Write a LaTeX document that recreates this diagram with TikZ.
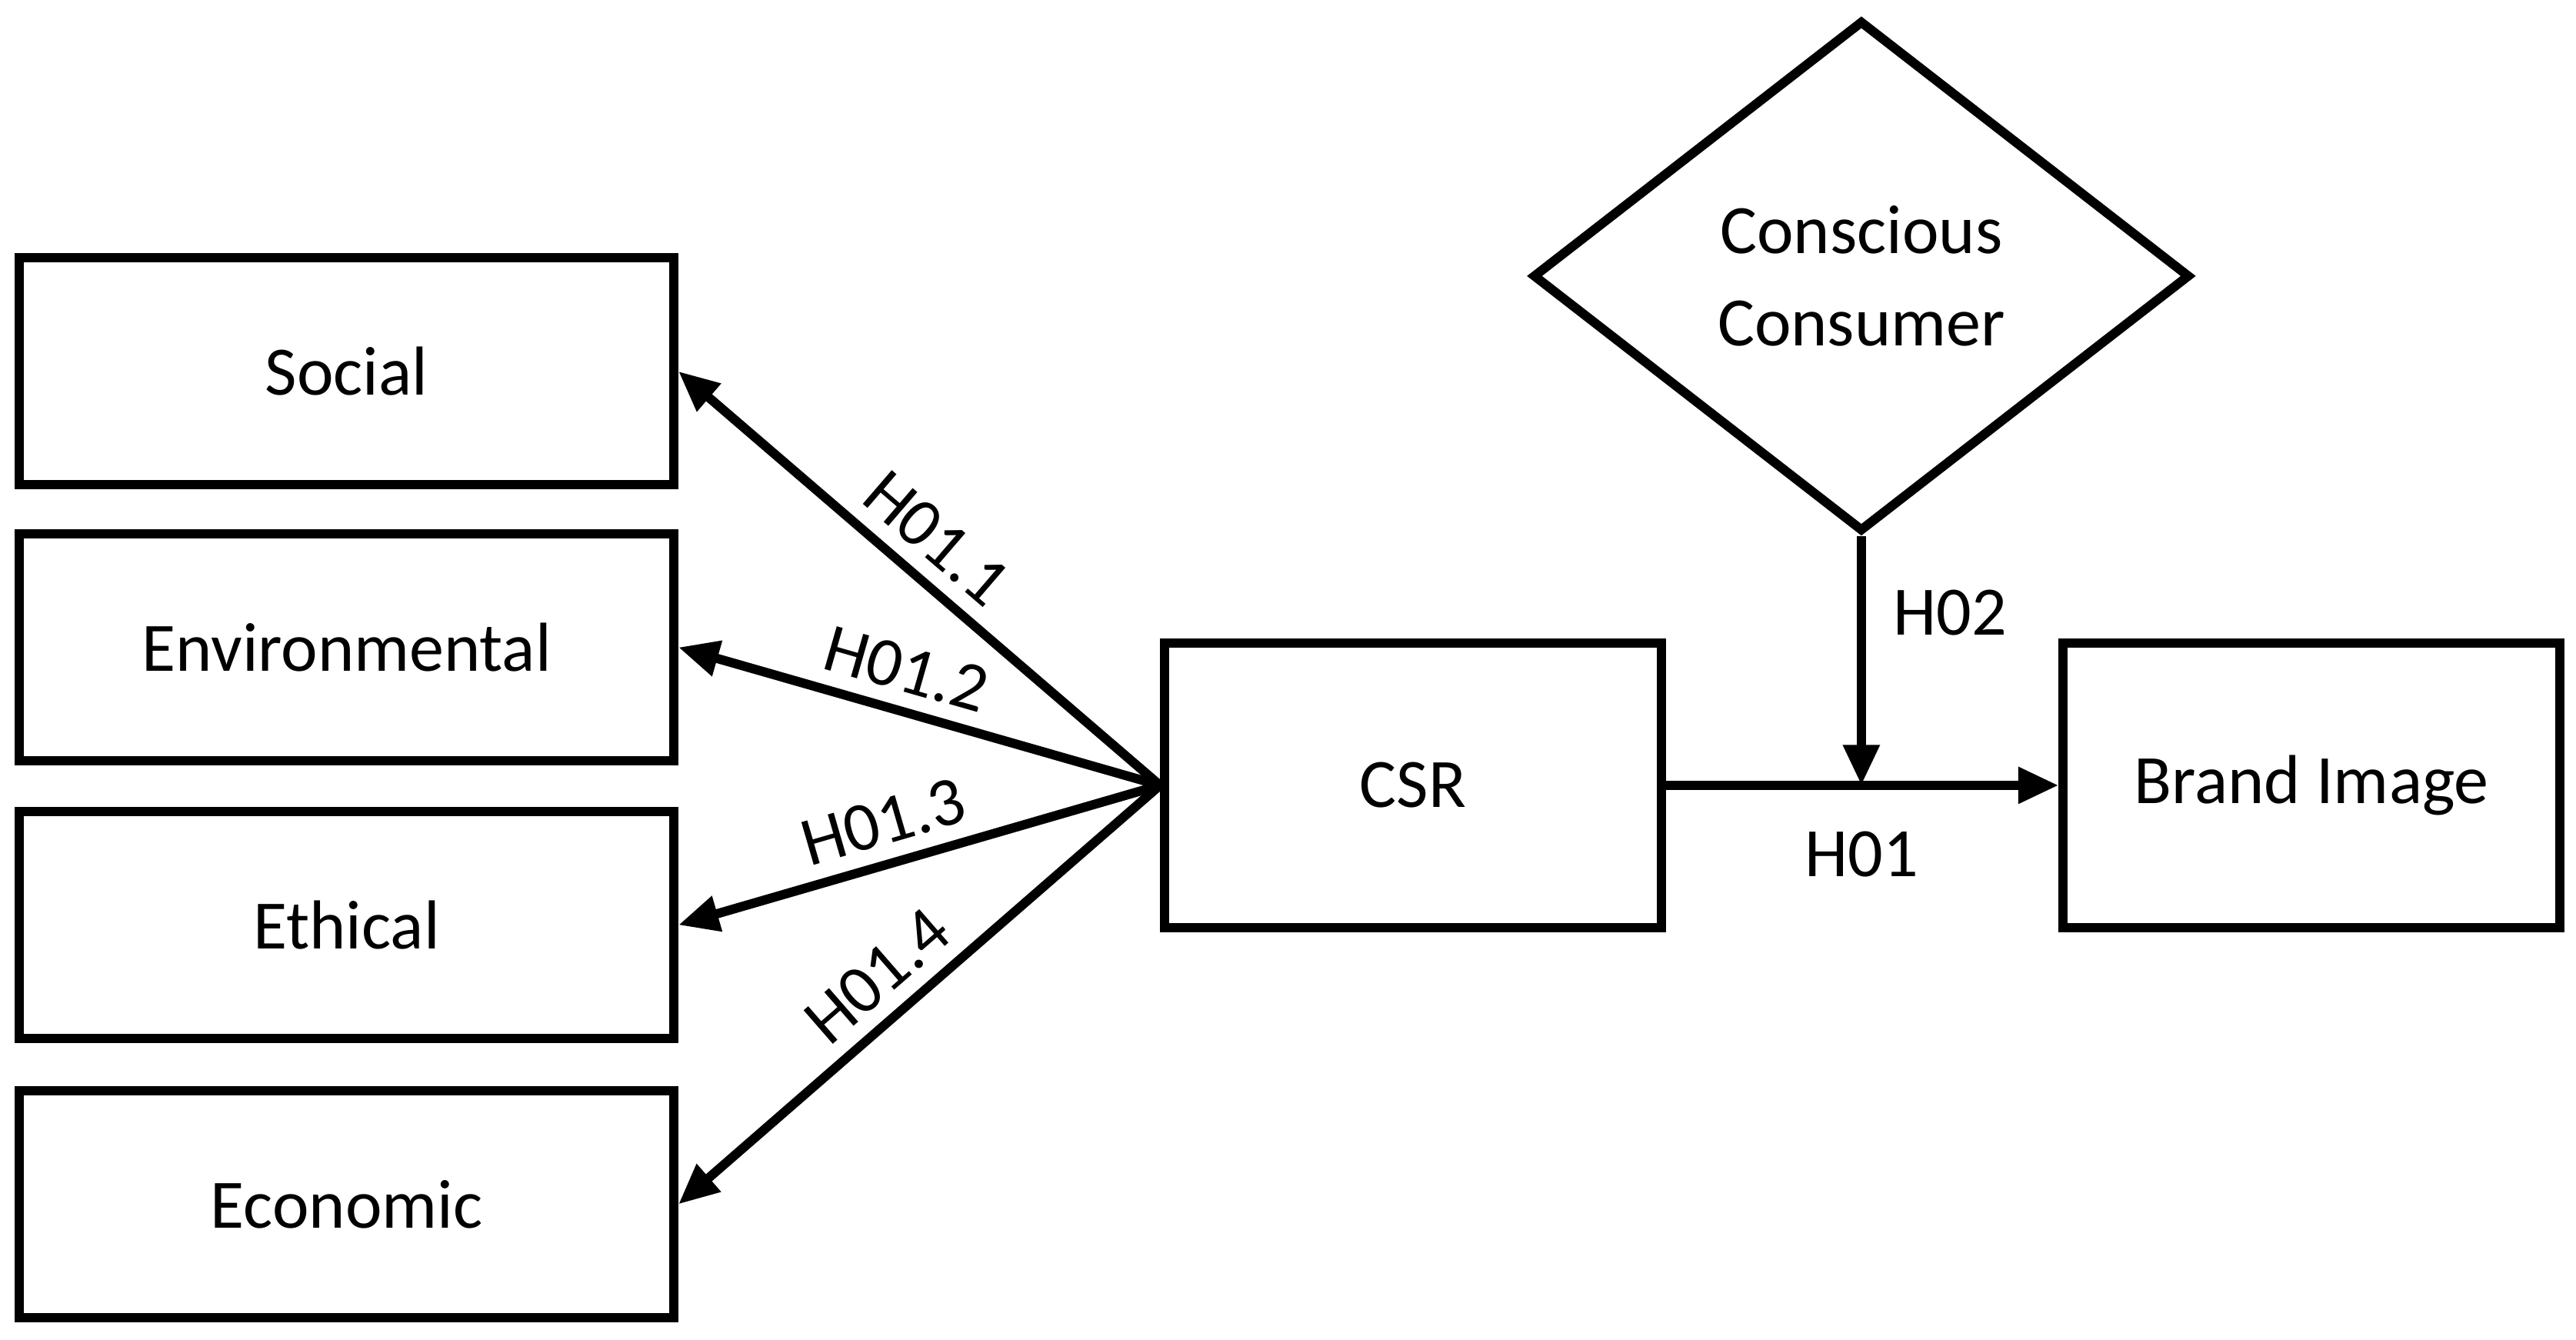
\documentclass[tikz,border=0pt]{standalone}
\usepackage{fontspec}
\setmainfont{Carlito}
\usetikzlibrary{shapes.geometric,arrows.meta}
\begin{document}
\begin{tikzpicture}[x=0.01cm,y=-0.01cm,
  box/.style={draw,line width=1.6pt,minimum width=3.98cm,minimum height=1.38cm,inner sep=0pt,font=\fontsize{12}{14}\selectfont},
  arr/.style={line width=1.6pt,-{Triangle[length=7pt,width=6pt]}},
  lab/.style={font=\fontsize{12}{14}\selectfont,inner sep=2.5pt}]
\useasboundingbox (0,0) rectangle (1568,815.6);
\node[box] (social) at (211,226) {Social};
\node[box] (env) at (211,394) {Environmental};
\node[box] (eth) at (211,563) {Ethical};
\node[box] (eco) at (211,733) {Economic};
\node[box,minimum width=3.02cm,minimum height=1.73cm] (csr) at (860,478) {CSR};
\node[box,minimum width=3.02cm,minimum height=1.73cm] (brand) at (1407,478) {Brand Image};
\node[draw,line width=1.6pt,diamond,minimum width=4cm,minimum height=3.11cm,inner sep=0pt,aspect=1.286,align=center,font=\fontsize{12}{16}\selectfont] (cc) at (1133,168) {Conscious\\Consumer};
\draw[arr] (csr.west) -- node[lab,sloped,above,pos=0.52] {H01.1} (social.east);
\draw[arr] (csr.west) -- node[lab,sloped,above,pos=0.55] {H01.2} (env.east);
\draw[arr] (csr.west) -- node[lab,sloped,above,pos=0.55] {H01.3} (eth.east);
\draw[arr] (csr.west) -- node[lab,sloped,above,pos=0.53] {H01.4} (eco.east);
\draw[arr] (csr.east) -- (brand.west);
\coordinate (m) at (1133,478);
\node[lab] (h01) at (1133,520) {H01};
\draw[arr] (cc.south) -- (m);
\node[lab] (h02) at (1187,373) {H02};
\end{tikzpicture}
\end{document}
